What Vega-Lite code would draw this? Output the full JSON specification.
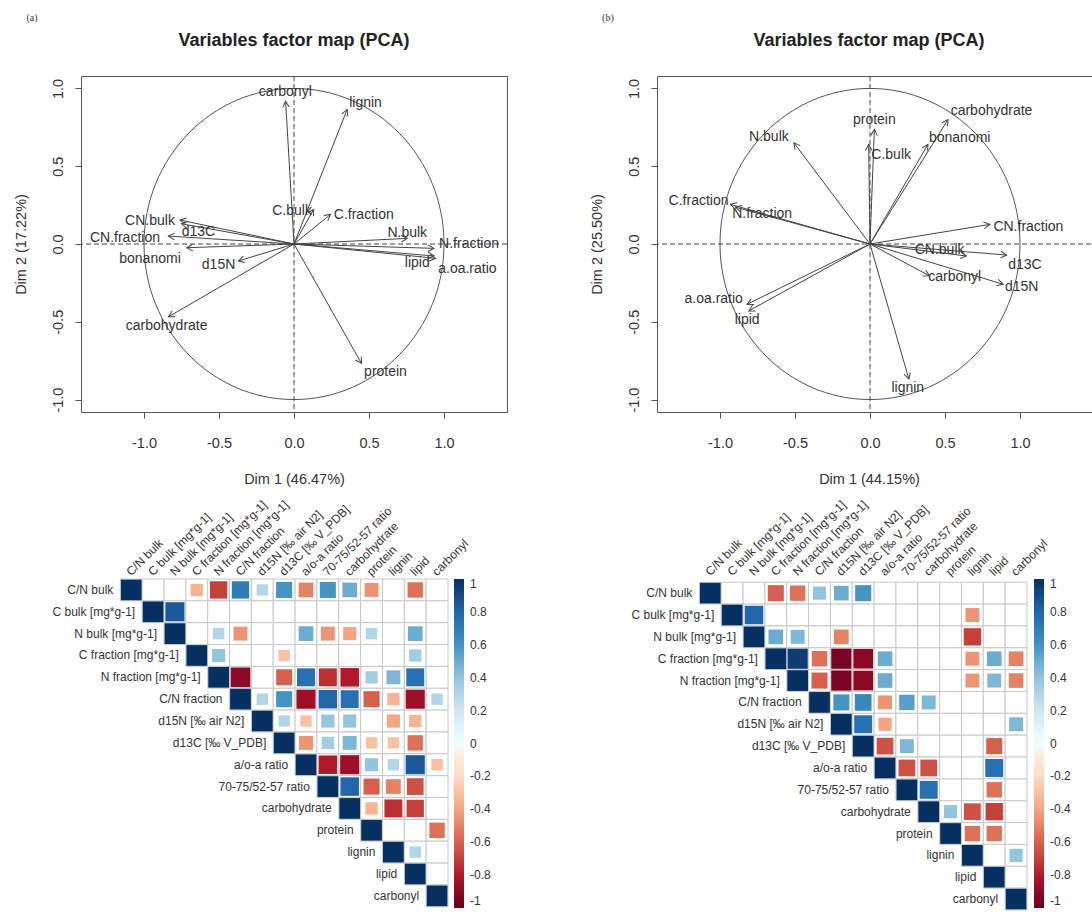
{
"$schema": "https://vega.github.io/schema/vega-lite/v6.json",
"padding": {"left": 12, "top": 12, "right": 0, "bottom": 0},
"background": "white",
"config": {
  "font": "Liberation Sans",
  "view": {"stroke": null},
  "axis": {"labelFont": "Liberation Sans", "titleFont": "Liberation Sans", "labelColor": "#333", "titleColor": "#333", "grid": false, "domain": false, "tickColor": "#555", "titleFontWeight": "normal"},
  "title": {"font": "Liberation Sans", "color": "#222"},
  "legend": {"gradientVerticalMaxLength": 400, "labelFont": "Liberation Sans"}
},
"resolve": {"scale": {"color": "independent", "size": "independent"}, "legend": {"color": "independent", "size": "independent"}},
"datasets": {
  "pcaA": [
    {"name": "carbonyl", "x": -0.056, "y": 0.918, "lx": -0.058, "ly": 0.978},
    {"name": "lignin", "x": 0.354, "y": 0.864, "lx": 0.477, "ly": 0.907},
    {"name": "C.bulk", "x": 0.131, "y": 0.222, "lx": -0.013, "ly": 0.212},
    {"name": "C.fraction", "x": 0.243, "y": 0.19, "lx": 0.465, "ly": 0.184},
    {"name": "N.bulk", "x": 0.755, "y": 0.036, "lx": 0.755, "ly": 0.068},
    {"name": "N.fraction", "x": 0.933, "y": -0.028, "lx": 1.167, "ly": 0.002},
    {"name": "lipid", "x": 0.933, "y": -0.077, "lx": 0.822, "ly": -0.124},
    {"name": "a.oa.ratio", "x": 0.944, "y": -0.092, "lx": 1.156, "ly": -0.163},
    {"name": "protein", "x": 0.45, "y": -0.768, "lx": 0.61, "ly": -0.826},
    {"name": "carbohydrate", "x": -0.837, "y": -0.468, "lx": -0.849, "ly": -0.526},
    {"name": "d15N", "x": -0.37, "y": -0.109, "lx": -0.503, "ly": -0.135},
    {"name": "bonanomi", "x": -0.715, "y": -0.024, "lx": -0.96, "ly": -0.094},
    {"name": "CN.fraction", "x": -0.837, "y": 0.051, "lx": -1.127, "ly": 0.036},
    {"name": "d13C", "x": -0.75, "y": 0.13, "lx": -0.637, "ly": 0.079},
    {"name": "CN.bulk", "x": -0.76, "y": 0.154, "lx": -0.96, "ly": 0.148}
  ],
  "pcaB": [
    {"name": "protein", "x": 0.029, "y": 0.736, "lx": 0.029, "ly": 0.796},
    {"name": "C.bulk", "x": -0.009, "y": 0.64, "lx": 0.141, "ly": 0.575},
    {"name": "carbohydrate", "x": 0.52, "y": 0.8, "lx": 0.81, "ly": 0.853},
    {"name": "bonanomi", "x": 0.386, "y": 0.64, "lx": 0.598, "ly": 0.682},
    {"name": "N.bulk", "x": -0.507, "y": 0.65, "lx": -0.674, "ly": 0.689},
    {"name": "C.fraction", "x": -0.931, "y": 0.255, "lx": -1.143, "ly": 0.276},
    {"name": "N.fraction", "x": -0.897, "y": 0.237, "lx": -0.719, "ly": 0.19},
    {"name": "CN.fraction", "x": 0.799, "y": 0.126, "lx": 1.056, "ly": 0.111},
    {"name": "CN.bulk", "x": 0.643, "y": -0.077, "lx": 0.464, "ly": -0.041},
    {"name": "d13C", "x": 0.911, "y": -0.071, "lx": 1.033, "ly": -0.135},
    {"name": "carbonyl", "x": 0.397, "y": -0.205, "lx": 0.565, "ly": -0.212},
    {"name": "d15N", "x": 0.888, "y": -0.259, "lx": 1.011, "ly": -0.276},
    {"name": "a.oa.ratio", "x": -0.819, "y": -0.387, "lx": -1.042, "ly": -0.351},
    {"name": "lipid", "x": -0.808, "y": -0.43, "lx": -0.819, "ly": -0.49},
    {"name": "lignin", "x": 0.259, "y": -0.868, "lx": 0.252, "ly": -0.928}
  ],
  "vars": [
    {"i": 0, "n": "C/N bulk"}, {"i": 1, "n": "C bulk [mg*g-1]"}, {"i": 2, "n": "N bulk [mg*g-1]"},
    {"i": 3, "n": "C fraction [mg*g-1]"}, {"i": 4, "n": "N fraction [mg*g-1]"}, {"i": 5, "n": "C/N fraction"},
    {"i": 6, "n": "d15N [‰ air N2]"}, {"i": 7, "n": "d13C [‰ V_PDB]"}, {"i": 8, "n": "a/o-a ratio"},
    {"i": 9, "n": "70-75/52-57 ratio"}, {"i": 10, "n": "carbohydrate"}, {"i": 11, "n": "protein"},
    {"i": 12, "n": "lignin"}, {"i": 13, "n": "lipid"}, {"i": 14, "n": "carbonyl"}
  ],
  "corrA": [
    {"i":0,"j":0,"v":1},{"i":0,"j":1},{"i":0,"j":2},{"i":0,"j":3,"v":-0.35},{"i":0,"j":4,"v":-0.7},{"i":0,"j":5,"v":0.7},{"i":0,"j":6,"v":0.3},{"i":0,"j":7,"v":0.6},{"i":0,"j":8,"v":-0.5},{"i":0,"j":9,"v":0.6},{"i":0,"j":10,"v":0.5},{"i":0,"j":11,"v":-0.45},{"i":0,"j":12},{"i":0,"j":13,"v":-0.55},{"i":0,"j":14},
    {"i":1,"j":1,"v":1},{"i":1,"j":2,"v":0.85},{"i":1,"j":3},{"i":1,"j":4},{"i":1,"j":5},{"i":1,"j":6},{"i":1,"j":7},{"i":1,"j":8},{"i":1,"j":9},{"i":1,"j":10},{"i":1,"j":11},{"i":1,"j":12},{"i":1,"j":13},{"i":1,"j":14},
    {"i":2,"j":2,"v":1},{"i":2,"j":3},{"i":2,"j":4,"v":0.3},{"i":2,"j":5,"v":-0.45},{"i":2,"j":6},{"i":2,"j":7},{"i":2,"j":8,"v":0.5},{"i":2,"j":9,"v":-0.45},{"i":2,"j":10,"v":-0.4},{"i":2,"j":11,"v":0.3},{"i":2,"j":12},{"i":2,"j":13,"v":0.5},{"i":2,"j":14},
    {"i":3,"j":3,"v":1},{"i":3,"j":4,"v":0.4},{"i":3,"j":5},{"i":3,"j":6},{"i":3,"j":7,"v":-0.3},{"i":3,"j":8},{"i":3,"j":9},{"i":3,"j":10},{"i":3,"j":11},{"i":3,"j":12},{"i":3,"j":13,"v":0.35},{"i":3,"j":14},
    {"i":4,"j":4,"v":1},{"i":4,"j":5,"v":-0.9},{"i":4,"j":6},{"i":4,"j":7,"v":-0.6},{"i":4,"j":8,"v":0.75},{"i":4,"j":9,"v":-0.75},{"i":4,"j":10,"v":-0.8},{"i":4,"j":11,"v":0.35},{"i":4,"j":12,"v":0.45},{"i":4,"j":13,"v":0.75},{"i":4,"j":14},
    {"i":5,"j":5,"v":1},{"i":5,"j":6,"v":0.3},{"i":5,"j":7,"v":0.6},{"i":5,"j":8,"v":-0.85},{"i":5,"j":9,"v":0.8},{"i":5,"j":10,"v":0.75},{"i":5,"j":11,"v":-0.6},{"i":5,"j":12,"v":-0.35},{"i":5,"j":13,"v":-0.85},{"i":5,"j":14,"v":0.3},
    {"i":6,"j":6,"v":1},{"i":6,"j":7,"v":0.3},{"i":6,"j":8,"v":-0.3},{"i":6,"j":9,"v":0.4},{"i":6,"j":10,"v":0.4},{"i":6,"j":11},{"i":6,"j":12,"v":-0.4},{"i":6,"j":13,"v":-0.35},{"i":6,"j":14},
    {"i":7,"j":7,"v":1},{"i":7,"j":8,"v":-0.45},{"i":7,"j":9,"v":0.35},{"i":7,"j":10,"v":0.45},{"i":7,"j":11,"v":-0.3},{"i":7,"j":12,"v":-0.3},{"i":7,"j":13,"v":-0.55},{"i":7,"j":14},
    {"i":8,"j":8,"v":1},{"i":8,"j":9,"v":-0.8},{"i":8,"j":10,"v":-0.85},{"i":8,"j":11,"v":0.4},{"i":8,"j":12,"v":0.3},{"i":8,"j":13,"v":0.85},{"i":8,"j":14,"v":-0.3},
    {"i":9,"j":9,"v":1},{"i":9,"j":10,"v":0.8},{"i":9,"j":11,"v":-0.6},{"i":9,"j":12,"v":-0.5},{"i":9,"j":13,"v":-0.65},{"i":9,"j":14},
    {"i":10,"j":10,"v":1},{"i":10,"j":11,"v":-0.35},{"i":10,"j":12,"v":-0.75},{"i":10,"j":13,"v":-0.7},{"i":10,"j":14},
    {"i":11,"j":11,"v":1},{"i":11,"j":12},{"i":11,"j":13},{"i":11,"j":14,"v":-0.55},
    {"i":12,"j":12,"v":1},{"i":12,"j":13,"v":0.3},{"i":12,"j":14},
    {"i":13,"j":13,"v":1},{"i":13,"j":14},
    {"i":14,"j":14,"v":1}
  ],
  "corrB": [
    {"i":0,"j":0,"v":1},{"i":0,"j":1},{"i":0,"j":2},{"i":0,"j":3,"v":-0.6},{"i":0,"j":4,"v":-0.55},{"i":0,"j":5,"v":0.4},{"i":0,"j":6,"v":0.5},{"i":0,"j":7,"v":0.6},{"i":0,"j":8},{"i":0,"j":9},{"i":0,"j":10},{"i":0,"j":11},{"i":0,"j":12},{"i":0,"j":13},{"i":0,"j":14},
    {"i":1,"j":1,"v":1},{"i":1,"j":2,"v":0.8},{"i":1,"j":3},{"i":1,"j":4},{"i":1,"j":5},{"i":1,"j":6},{"i":1,"j":7},{"i":1,"j":8},{"i":1,"j":9},{"i":1,"j":10},{"i":1,"j":11},{"i":1,"j":12,"v":-0.45},{"i":1,"j":13},{"i":1,"j":14},
    {"i":2,"j":2,"v":1},{"i":2,"j":3,"v":0.5},{"i":2,"j":4,"v":0.45},{"i":2,"j":5},{"i":2,"j":6,"v":-0.5},{"i":2,"j":7},{"i":2,"j":8},{"i":2,"j":9},{"i":2,"j":10},{"i":2,"j":11},{"i":2,"j":12,"v":-0.7},{"i":2,"j":13},{"i":2,"j":14},
    {"i":3,"j":3,"v":1},{"i":3,"j":4,"v":0.95},{"i":3,"j":5,"v":-0.55},{"i":3,"j":6,"v":-0.95},{"i":3,"j":7,"v":-0.9},{"i":3,"j":8,"v":0.5},{"i":3,"j":9},{"i":3,"j":10},{"i":3,"j":11},{"i":3,"j":12,"v":-0.45},{"i":3,"j":13,"v":0.5},{"i":3,"j":14,"v":-0.5},
    {"i":4,"j":4,"v":1},{"i":4,"j":5,"v":-0.6},{"i":4,"j":6,"v":-0.95},{"i":4,"j":7,"v":-0.9},{"i":4,"j":8,"v":0.5},{"i":4,"j":9},{"i":4,"j":10},{"i":4,"j":11},{"i":4,"j":12,"v":-0.45},{"i":4,"j":13,"v":0.45},{"i":4,"j":14,"v":-0.5},
    {"i":5,"j":5,"v":1},{"i":5,"j":6,"v":0.6},{"i":5,"j":7,"v":0.65},{"i":5,"j":8,"v":-0.45},{"i":5,"j":9,"v":0.55},{"i":5,"j":10,"v":0.45},{"i":5,"j":11},{"i":5,"j":12},{"i":5,"j":13},{"i":5,"j":14},
    {"i":6,"j":6,"v":1},{"i":6,"j":7,"v":0.75},{"i":6,"j":8,"v":-0.4},{"i":6,"j":9},{"i":6,"j":10},{"i":6,"j":11},{"i":6,"j":12},{"i":6,"j":13},{"i":6,"j":14,"v":0.45},
    {"i":7,"j":7,"v":1},{"i":7,"j":8,"v":-0.65},{"i":7,"j":9,"v":0.45},{"i":7,"j":10},{"i":7,"j":11},{"i":7,"j":12},{"i":7,"j":13,"v":-0.6},{"i":7,"j":14},
    {"i":8,"j":8,"v":1},{"i":8,"j":9,"v":-0.65},{"i":8,"j":10,"v":-0.65},{"i":8,"j":11},{"i":8,"j":12},{"i":8,"j":13,"v":0.75},{"i":8,"j":14},
    {"i":9,"j":9,"v":1},{"i":9,"j":10,"v":0.75},{"i":9,"j":11},{"i":9,"j":12},{"i":9,"j":13,"v":-0.55},{"i":9,"j":14},
    {"i":10,"j":10,"v":1},{"i":10,"j":11,"v":0.4},{"i":10,"j":12,"v":-0.65},{"i":10,"j":13,"v":-0.7},{"i":10,"j":14},
    {"i":11,"j":11,"v":1},{"i":11,"j":12,"v":-0.55},{"i":11,"j":13,"v":-0.55},{"i":11,"j":14},
    {"i":12,"j":12,"v":1},{"i":12,"j":13},{"i":12,"j":14,"v":0.4},
    {"i":13,"j":13,"v":1},{"i":13,"j":14},
    {"i":14,"j":14,"v":1}
  ]
},
"bounds": "flush",
"columns": 2,
"spacing": {"row": 167, "column": 150},
"concat": [
  {
    "width": 426, "height": 336,
    "view": {"stroke": "#555", "strokeWidth": 1},
    "title": {"text": "Variables factor map (PCA)", "fontSize": 18, "fontWeight": "bold", "anchor": "middle", "offset": -37, "color": "#222"},
    "data": {"name": "pcaA"},
    "layer": [
      {
        "data": {"values": [{"x": 0, "y": 0}]},
        "mark": {"type": "point", "shape": "M-1,0A1,1.037,0,1,1,1,0A1,1.037,0,1,1,-1,0Z", "size": 90000, "filled": false, "stroke": "#555", "strokeWidth": 1, "opacity": 1},
        "encoding": {
          "x": {"field": "x", "type": "quantitative", "title": "Dim 1 (46.47%)", "scale": {"domain": [-1.42, 1.42], "nice": false, "zero": false},
                "axis": {"values": [-1, -0.5, 0, 0.5, 1], "labelExpr": "replace(format(datum.value, '.1f'), '\u2212', '-')", "tickSize": 6, "labelPadding": 18, "labelFontSize": 14.5, "titleFontSize": 14.5, "titlePadding": 23}},
          "y": {"field": "y", "type": "quantitative", "title": "Dim 2 (17.22%)", "scale": {"domain": [-1.08, 1.08], "nice": false, "zero": false},
                "axis": {"values": [-1, -0.5, 0, 0.5, 1], "labelExpr": "replace(format(datum.value, '.1f'), '\u2212', '-')", "labelAngle": -90, "labelAlign": "center", "labelBaseline": "bottom", "tickSize": 6, "labelPadding": 10, "labelFontSize": 14.5, "titleFontSize": 14.5, "titlePadding": 22}}
        }
      },
      {
        "data": {"values": [{"x": 0}]},
        "mark": {"type": "rule", "strokeDash": [5, 3], "stroke": "#444", "strokeWidth": 1},
        "encoding": {"x": {"field": "x", "type": "quantitative", "title": "Dim 1 (46.47%)"}}
      },
      {
        "data": {"values": [{"y": 0}]},
        "mark": {"type": "rule", "strokeDash": [5, 3], "stroke": "#444", "strokeWidth": 1},
        "encoding": {"y": {"field": "y", "type": "quantitative", "title": "Dim 2 (17.22%)"}}
      },
      {
        "mark": {"type": "rule", "stroke": "#444", "strokeWidth": 1},
        "encoding": {
          "x": {"field": "x", "type": "quantitative", "title": "Dim 1 (46.47%)"},
          "y": {"field": "y", "type": "quantitative", "title": "Dim 2 (17.22%)"},
          "x2": {"datum": 0}, "y2": {"datum": 0}
        }
      },
      {
        "transform": [{"calculate": "atan2(datum.x, datum.y) * 180 / PI", "as": "ang"}],
        "mark": {"type": "point", "shape": "M-0.55,1L0,0L0.55,1", "size": 144, "filled": false, "stroke": "#444", "strokeWidth": 1, "opacity": 1},
        "encoding": {
          "x": {"field": "x", "type": "quantitative", "title": "Dim 1 (46.47%)"},
          "y": {"field": "y", "type": "quantitative", "title": "Dim 2 (17.22%)"},
          "angle": {"field": "ang", "type": "quantitative", "scale": null}
        }
      },
      {
        "mark": {"type": "text", "fontSize": 14, "fill": "#333", "align": "center", "baseline": "middle"},
        "encoding": {
          "x": {"field": "lx", "type": "quantitative", "title": "Dim 1 (46.47%)"},
          "y": {"field": "ly", "type": "quantitative", "title": "Dim 2 (17.22%)"},
          "text": {"field": "name"}
        }
      },
      {
        "data": {"values": [{"tag": "(a)"}]},
        "mark": {"type": "text", "font": "Liberation Serif", "fontSize": 10, "fill": "#333", "align": "center", "baseline": "middle"},
        "encoding": {
          "x": {"datum": -1.747, "type": "quantitative"},
          "y": {"datum": 1.452, "type": "quantitative"},
          "text": {"field": "tag"}
        }
      }
    ]
  },
  {
    "width": 450, "height": 336,
    "view": {"stroke": "#555", "strokeWidth": 1},
    "title": {"text": "Variables factor map (PCA)", "fontSize": 18, "fontWeight": "bold", "anchor": "middle", "offset": -37, "dx": -13, "color": "#222"},
    "data": {"name": "pcaB"},
    "layer": [
      {
        "data": {"values": [{"x": 0, "y": 0}]},
        "mark": {"type": "point", "shape": "M-1,0A1,1.037,0,1,1,1,0A1,1.037,0,1,1,-1,0Z", "size": 90000, "filled": false, "stroke": "#555", "strokeWidth": 1, "opacity": 1},
        "encoding": {
          "x": {"field": "x", "type": "quantitative", "title": "Dim 1 (44.15%)", "scale": {"domain": [-1.42, 1.58], "nice": false, "zero": false},
                "axis": {"values": [-1, -0.5, 0, 0.5, 1], "labelExpr": "replace(format(datum.value, '.1f'), '\u2212', '-')", "tickSize": 6, "labelPadding": 18, "labelFontSize": 14.5, "titleFontSize": 14.5, "titlePadding": 23, "titleX": 212}},
          "y": {"field": "y", "type": "quantitative", "title": "Dim 2 (25.50%)", "scale": {"domain": [-1.08, 1.08], "nice": false, "zero": false},
                "axis": {"values": [-1, -0.5, 0, 0.5, 1], "labelExpr": "replace(format(datum.value, '.1f'), '\u2212', '-')", "labelAngle": -90, "labelAlign": "center", "labelBaseline": "bottom", "tickSize": 6, "labelPadding": 10, "labelFontSize": 14.5, "titleFontSize": 14.5, "titlePadding": 22}}
        }
      },
      {
        "data": {"values": [{"x": 0}]},
        "mark": {"type": "rule", "strokeDash": [5, 3], "stroke": "#444", "strokeWidth": 1},
        "encoding": {"x": {"field": "x", "type": "quantitative", "title": "Dim 1 (44.15%)"}}
      },
      {
        "data": {"values": [{"y": 0}]},
        "mark": {"type": "rule", "strokeDash": [5, 3], "stroke": "#444", "strokeWidth": 1},
        "encoding": {"y": {"field": "y", "type": "quantitative", "title": "Dim 2 (25.50%)"}}
      },
      {
        "mark": {"type": "rule", "stroke": "#444", "strokeWidth": 1},
        "encoding": {
          "x": {"field": "x", "type": "quantitative", "title": "Dim 1 (44.15%)"},
          "y": {"field": "y", "type": "quantitative", "title": "Dim 2 (25.50%)"},
          "x2": {"datum": 0}, "y2": {"datum": 0}
        }
      },
      {
        "transform": [{"calculate": "atan2(datum.x, datum.y) * 180 / PI", "as": "ang"}],
        "mark": {"type": "point", "shape": "M-0.55,1L0,0L0.55,1", "size": 144, "filled": false, "stroke": "#444", "strokeWidth": 1, "opacity": 1},
        "encoding": {
          "x": {"field": "x", "type": "quantitative", "title": "Dim 1 (44.15%)"},
          "y": {"field": "y", "type": "quantitative", "title": "Dim 2 (25.50%)"},
          "angle": {"field": "ang", "type": "quantitative", "scale": null}
        }
      },
      {
        "mark": {"type": "text", "fontSize": 14, "fill": "#333", "align": "center", "baseline": "middle"},
        "encoding": {
          "x": {"field": "lx", "type": "quantitative", "title": "Dim 1 (44.15%)"},
          "y": {"field": "ly", "type": "quantitative", "title": "Dim 2 (25.50%)"},
          "text": {"field": "name"}
        }
      },
      {
        "data": {"values": [{"tag": "(b)"}]},
        "mark": {"type": "text", "font": "Liberation Serif", "fontSize": 10, "fill": "#333", "align": "center", "baseline": "middle"},
        "encoding": {
          "x": {"datum": -1.747, "type": "quantitative"},
          "y": {"datum": 1.452, "type": "quantitative"},
          "text": {"field": "tag"}
        }
      }
    ]
  },
  {
    "width": 367, "height": 331,
    "data": {"name": "corrA"},
    "layer": [
      {
        "mark": {"type": "rect", "fill": "white", "stroke": "#c8c8c8", "strokeWidth": 1},
        "encoding": {
          "x": {"field": "j", "type": "ordinal", "title": null, "scale": {"domain": [0,1,2,3,4,5,6,7,8,9,10,11,12,13,14], "paddingInner": 0, "paddingOuter": 0.9, "align": 1},
                "axis": {"orient": "top", "title": null, "labelExpr": "['C/N bulk','C bulk [mg*g-1]','N bulk [mg*g-1]','C fraction [mg*g-1]','N fraction [mg*g-1]','C/N fraction','d15N [‰ air N2]','d13C [‰ V_PDB]','a/o-a ratio','70-75/52-57 ratio','carbohydrate','protein','lignin','lipid','carbonyl'][datum.value]", "labelAngle": -45, "labelAlign": "left", "labelBaseline": "alphabetic", "domain": false, "ticks": false, "labelPadding": 3, "labelFontSize": 12, "labelColor": "#333", "labelBound": false, "labelOverlap": false, "labelLimit": 0}},
          "y": {"field": "i", "type": "ordinal", "title": null, "scale": {"domain": [0,1,2,3,4,5,6,7,8,9,10,11,12,13,14], "paddingInner": 0, "paddingOuter": 0.074, "align": 0}, "axis": null}
        }
      },
      {
        "transform": [{"filter": "isValid(datum.v)"}],
        "mark": {"type": "point", "shape": "square", "filled": true, "opacity": 1},
        "encoding": {
          "x": {"field": "j", "type": "ordinal", "title": null},
          "y": {"field": "i", "type": "ordinal", "title": null},
          "size": {"field": "v", "type": "quantitative", "scale": {"domain": [-1, 0, 1], "range": [430, 0, 430]}, "legend": null},
          "color": {"field": "v", "type": "quantitative",
                    "scale": {"domain": [-1, -0.8, -0.6, -0.4, -0.2, 0, 0.2, 0.4, 0.6, 0.8, 1], "range": ["#67001F", "#B2182B", "#D6604D", "#F4A582", "#FDDBC7", "#FFFFFF", "#D1E5F0", "#92C5DE", "#4393C3", "#2166AC", "#053061"]},
                    "legend": {"title": null, "orient": "right", "offset": 6, "padding": 0, "gradientLength": 329, "gradientThickness": 10, "gradientStrokeWidth": 0, "values": [1, 0.8, 0.6, 0.4, 0.2, 0, -0.2, -0.4, -0.6, -0.8, -1], "labelExpr": "replace(format(datum.value, '~g'), '\u2212', '-')", "labelFontSize": 12, "labelColor": "#333", "labelOffset": 6, "direction": "vertical"}}
        }
      },
      {
        "data": {"name": "vars"},
        "mark": {"type": "text", "align": "right", "baseline": "middle", "dx": -7, "fontSize": 12, "fill": "#333"},
        "encoding": {
          "x": {"field": "i", "type": "ordinal", "title": null, "bandPosition": 0},
          "y": {"field": "i", "type": "ordinal", "title": null},
          "text": {"field": "n"}
        }
      }
    ]
  },
  {
    "width": 370, "height": 331,
    "data": {"name": "corrB"},
    "layer": [
      {
        "mark": {"type": "rect", "fill": "white", "stroke": "#c8c8c8", "strokeWidth": 1},
        "encoding": {
          "x": {"field": "j", "type": "ordinal", "title": null, "scale": {"domain": [0,1,2,3,4,5,6,7,8,9,10,11,12,13,14], "paddingInner": 0, "paddingOuter": 0.97, "align": 1},
                "axis": {"orient": "top", "title": null, "labelExpr": "['C/N bulk','C bulk [mg*g-1]','N bulk [mg*g-1]','C fraction [mg*g-1]','N fraction [mg*g-1]','C/N fraction','d15N [‰ air N2]','d13C [‰ V_PDB]','a/o-a ratio','70-75/52-57 ratio','carbohydrate','protein','lignin','lipid','carbonyl'][datum.value]", "labelAngle": -45, "labelAlign": "left", "labelBaseline": "alphabetic", "domain": false, "ticks": false, "labelPadding": 3, "labelFontSize": 12, "labelColor": "#333", "labelBound": false, "labelOverlap": false, "labelLimit": 0}},
          "y": {"field": "i", "type": "ordinal", "title": null, "scale": {"domain": [0,1,2,3,4,5,6,7,8,9,10,11,12,13,14], "paddingInner": 0, "paddingOuter": 0.074, "align": 1}, "axis": null}
        }
      },
      {
        "transform": [{"filter": "isValid(datum.v)"}],
        "mark": {"type": "point", "shape": "square", "filled": true, "opacity": 1},
        "encoding": {
          "x": {"field": "j", "type": "ordinal", "title": null},
          "y": {"field": "i", "type": "ordinal", "title": null},
          "size": {"field": "v", "type": "quantitative", "scale": {"domain": [-1, 0, 1], "range": [430, 0, 430]}, "legend": null},
          "color": {"field": "v", "type": "quantitative",
                    "scale": {"domain": [-1, -0.8, -0.6, -0.4, -0.2, 0, 0.2, 0.4, 0.6, 0.8, 1], "range": ["#67001F", "#B2182B", "#D6604D", "#F4A582", "#FDDBC7", "#FFFFFF", "#D1E5F0", "#92C5DE", "#4393C3", "#2166AC", "#053061"]},
                    "legend": {"title": null, "orient": "right", "offset": 7, "padding": 0, "gradientLength": 329, "gradientThickness": 10, "gradientStrokeWidth": 0, "values": [1, 0.8, 0.6, 0.4, 0.2, 0, -0.2, -0.4, -0.6, -0.8, -1], "labelExpr": "replace(format(datum.value, '~g'), '\u2212', '-')", "labelFontSize": 12, "labelColor": "#333", "labelOffset": 6, "direction": "vertical"}}
        }
      },
      {
        "data": {"name": "vars"},
        "mark": {"type": "text", "align": "right", "baseline": "middle", "dx": -7, "fontSize": 12, "fill": "#333"},
        "encoding": {
          "x": {"field": "i", "type": "ordinal", "title": null, "bandPosition": 0},
          "y": {"field": "i", "type": "ordinal", "title": null},
          "text": {"field": "n"}
        }
      }
    ]
  }
]
}
